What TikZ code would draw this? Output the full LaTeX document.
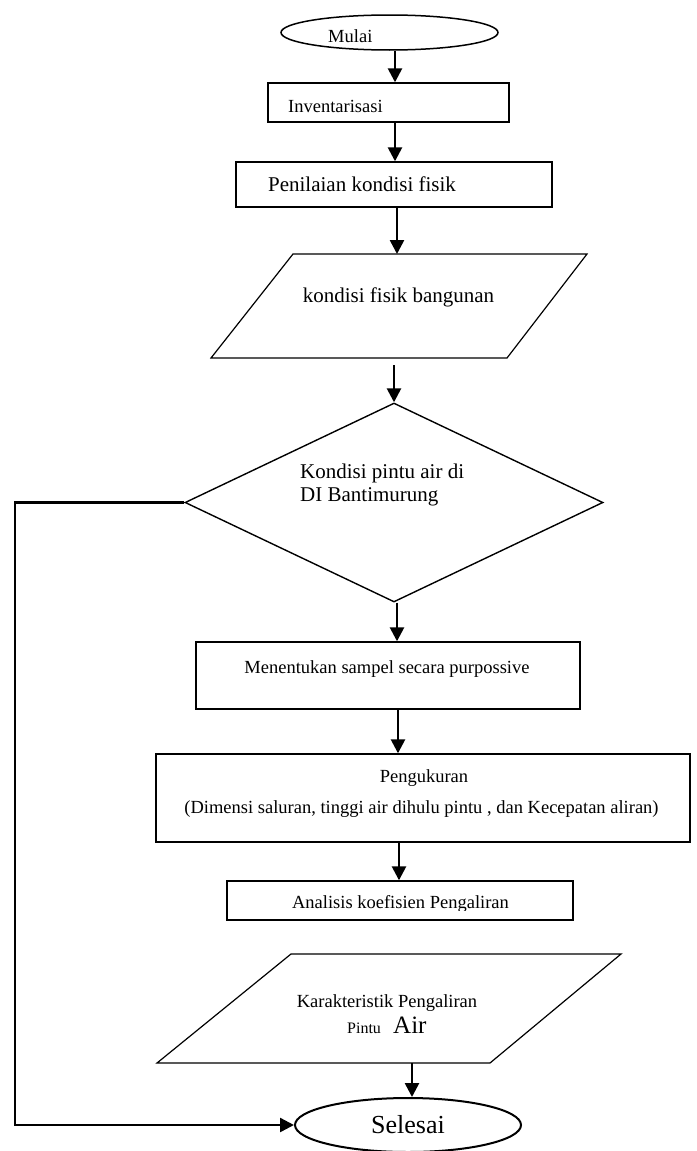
\documentclass[tikz,border=0pt]{standalone}
\usepackage{fontspec}
\setmainfont{Liberation Serif}
\usetikzlibrary{shapes.geometric,arrows.meta}
\begin{document}
\begin{tikzpicture}[x=1pt,y=-1pt,
  boxnode/.style={draw,line width=1.4pt,rectangle,inner sep=0pt},
  ovalnode/.style={draw,ellipse,inner sep=0pt},
  txt/.style={inner sep=0pt,anchor=base,font=\fontsize{18.5}{22}\selectfont},
  txtl/.style={txt,anchor=base west},
  bigtxt/.style={txt,font=\fontsize{21}{25}\selectfont},
  bigtxtl/.style={bigtxt,anchor=base west},
  arr/.style={line width=2.6pt,-{Triangle[length=14pt,width=14pt]}},
  fbline/.style={line width=2.4pt,line join=miter,-{Triangle[length=14pt,width=14pt]}},
  para/.style={draw,line width=1.2pt,line join=miter}
]
\useasboundingbox (0,0) rectangle (696,1151);

% axes for vertical arrows
\coordinate (a1) at (395,0);
\coordinate (a2) at (397,0);
\coordinate (a3) at (398,0);
\coordinate (a4) at (399,0);
\coordinate (fb) at (15,0);

% Mulai
\node[ovalnode,line width=1.5pt,minimum width=217pt,minimum height=35pt] (mulai) at (389.5,32.5) {};
\node[txtl] (tmulai) at (328,42) {Mulai};

% Inventarisasi
\node[boxnode,minimum width=241pt,minimum height=39pt] (inv) at (388.5,102.5) {};
\node[txtl] (tinv) at (288,112) {Inventarisasi};

% Penilaian
\node[boxnode,minimum width=316pt,minimum height=45pt] (pen) at (394,184.5) {};
\node[bigtxt] (tpen) at (362,191) {Penilaian kondisi fisik};

% Parallelogram 1
\coordinate (p1tl) at (293,254);
\coordinate (p1tr) at (587,254);
\coordinate (p1br) at (507,358);
\coordinate (p1bl) at (211,358);
\draw[para] (p1tl) -- (p1tr) -- (p1br) -- (p1bl) -- cycle;
\node[bigtxt] (tp1) at (398.5,302) {kondisi fisik bangunan};
\coordinate (p1in) at (397,254);
\coordinate (p1out) at (394,365);

% Decision
\node[draw,diamond,line width=1.4pt,inner sep=0pt,minimum width=418pt,minimum height=199pt] (dec) at (394,502.5) {};
\node[bigtxtl] (tdec1) at (300,478) {Kondisi pintu air di};
\node[bigtxtl] (tdec2) at (300,501) {DI Bantimurung};

% Menentukan
\node[boxnode,minimum width=384pt,minimum height=67pt] (men) at (388,675.5) {};
\node[txt] (tmen) at (387,673) {Menentukan sampel secara purpossive};

% Pengukuran
\node[boxnode,minimum width=534pt,minimum height=88pt] (peng) at (423,798) {};
\node[txt] (tpeng1) at (424,782) {Pengukuran};
\node[txt] (tpeng2) at (421.5,813) {(Dimensi saluran, tinggi air dihulu pintu , dan Kecepatan aliran)};

% Analisis
\node[boxnode,minimum width=346pt,minimum height=39pt] (ana) at (400,900.5) {};
\begin{scope}
\clip (227,881) rectangle (573,910);
\node[txt] (tana) at (400.5,908) {Analisis koefisien Pengaliran};
\end{scope}

% Parallelogram 2
\coordinate (p2tl) at (291,954);
\coordinate (p2tr) at (621,954);
\coordinate (p2br) at (490,1063);
\coordinate (p2bl) at (157,1063);
\draw[para] (p2tl) -- (p2tr) -- (p2br) -- (p2bl) -- cycle;
\node[txt] (tp2a) at (387,1007) {Karakteristik Pengaliran};
\node[txtl,font=\fontsize{16}{19}\selectfont] (tp2b) at (347,1033) {Pintu};
\node[txtl,font=\fontsize{25}{30}\selectfont] (tp2c) at (393,1033) {Air};
\coordinate (p2out) at (412,1063);

% Selesai
\node[ovalnode,line width=2pt,minimum width=226pt,minimum height=54pt,font=\fontsize{26}{30}\selectfont] (sel) at (408,1125) {Selesai};

% connectors
\draw[arr] (mulai.south -| a1) -- (inv.north -| a1);
\draw[arr] (inv.south -| a1) -- (pen.north -| a1);
\draw[arr] (pen.south -| p1in) -- (p1in);
\draw[arr] (p1out) -- (dec.north);
\draw[arr] (dec.south -| a2) -- (men.north -| a2);
\draw[arr] (men.south -| a3) -- (peng.north -| a3);
\draw[arr] (peng.south -| a4) -- (ana.north -| a4);
\draw[arr] (p2out) -- (p2out |- sel.north);
\draw[fbline] (dec.west) -- (dec.west -| fb) |- (sel.west);
\end{tikzpicture}
\end{document}
